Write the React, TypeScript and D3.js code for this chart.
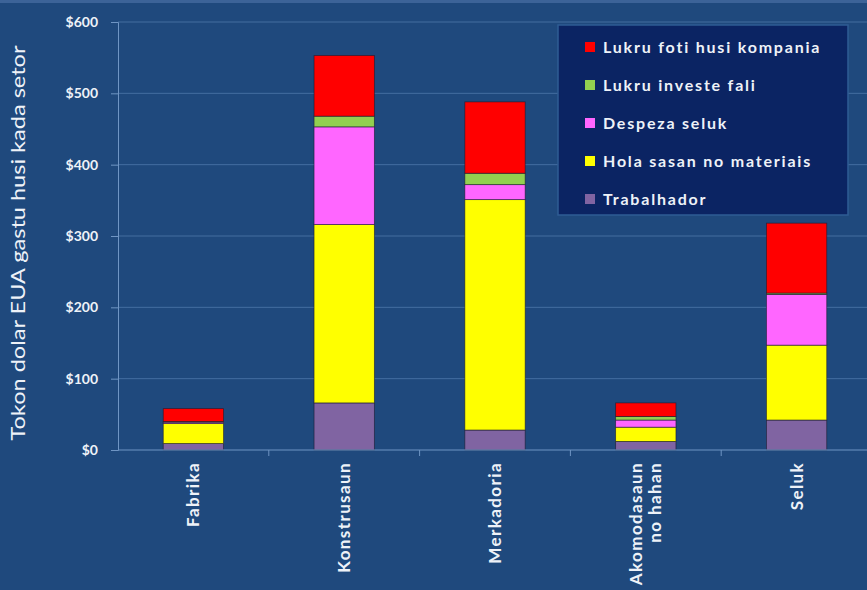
import React, { useEffect, useRef } from 'react';
import * as d3 from 'd3';

// sectors on the x axis
const categories = ['Fabrika', 'Konstrusaun', 'Merkadoria', 'Akomodasaun\nno hahan', 'Seluk'];

// stack series, bottom to top
const seriesNames = [
  'Trabalhador',
  'Hola sasan no materiais',
  'Despeza seluk',
  'Lukru investe fali',
  'Lukru foti husi kompania',
];
const trabalhador = [9, 66, 28, 12, 42];
const holaSasan = [28, 250, 323, 20, 105];
const despezaSeluk = [2, 137, 21, 10, 71];
const lukruInveste = [1, 15, 16, 5, 2];
const lukruFoti = [18, 85, 100, 19, 98];

const yTicks = [0, 100, 200, 300, 400, 500, 600];
const colors = ['#8064a2', '#ffff00', '#ff66ff', '#92d050', '#ff0000'];

const W = 867;
const H = 590;
const FONT = 'Lato, "Open Sans", sans-serif';

const App = () => {
  const svgRef = useRef<SVGSVGElement>(null);

  useEffect(() => {
    const svg = d3.select(svgRef.current);
    svg.selectAll('*').remove();

    const rows = categories.map((c, i) => ({
      cat: c,
      s0: trabalhador[i],
      s1: holaSasan[i],
      s2: despezaSeluk[i],
      s3: lukruInveste[i],
      s4: lukruFoti[i],
    }));
    const keys = ['s0', 's1', 's2', 's3', 's4'];
    const stacked = d3.stack().keys(keys)(rows as any);

    const x = d3.scaleBand().domain(categories).range([118, 872]).padding(0);
    const y = d3.scaleLinear().domain([0, 600]).range([450, 22]);
    const barW = x.bandwidth() * 0.4;

    // background
    svg.append('rect').attr('width', W).attr('height', H).attr('fill', '#1f497d');
    // faint remnant strip at the very top
    svg.append('rect').attr('width', W).attr('height', 3).attr('fill', '#3c6398');

    // grid lines
    svg.append('g')
      .selectAll('line')
      .data(yTicks.slice(1))
      .enter()
      .append('line')
      .attr('x1', 118)
      .attr('x2', W)
      .attr('y1', d => y(d))
      .attr('y2', d => y(d))
      .attr('stroke', '#5c86b8')
      .attr('stroke-width', 1)
      .attr('opacity', 0.6);

    // bars
    const layers = svg.append('g')
      .selectAll('g')
      .data(stacked)
      .enter()
      .append('g')
      .attr('fill', (d, i) => colors[i]);

    layers.selectAll('rect')
      .data(d => d)
      .enter()
      .append('rect')
      .attr('x', (d: any) => (x(d.data.cat) as number) + (x.bandwidth() - barW) / 2)
      .attr('width', barW)
      .attr('y', d => y(d[1]))
      .attr('height', d => y(d[0]) - y(d[1]))
      .attr('stroke', '#1a1a2e')
      .attr('stroke-width', 0.8)
      .attr('stroke-opacity', 0.7);

    // y axis
    const yAxis = d3.axisLeft(y)
      .tickValues(yTicks)
      .tickSize(7)
      .tickFormat(d => `$${d}`);
    const ya = svg.append('g').attr('transform', 'translate(118,0)').call(yAxis);
    ya.select('.domain').attr('stroke', '#6f95c4');
    ya.selectAll('.tick line').attr('stroke', '#6f95c4');
    ya.selectAll('.tick text')
      .attr('x', -20)
      .attr('fill', '#eef2f8')
      .attr('font-family', FONT)
      .attr('font-weight', 700)
      .attr('font-size', 14);

    // x axis
    svg.append('line')
      .attr('x1', 118).attr('x2', W)
      .attr('y1', y(0)).attr('y2', y(0))
      .attr('stroke', '#6f95c4');
    svg.append('g')
      .selectAll('line')
      .data(categories.slice(1))
      .enter()
      .append('line')
      .attr('x1', d => x(d) as number)
      .attr('x2', d => x(d) as number)
      .attr('y1', y(0))
      .attr('y2', y(0) + 6)
      .attr('stroke', '#6f95c4');

    // x labels (rotated)
    categories.forEach(c => {
      const lines = c.split('\n');
      const cx = (x(c) as number) + x.bandwidth() / 2;
      const t = svg.append('text')
        .attr('transform', `translate(${cx},462) rotate(-90)`)
        .attr('text-anchor', 'end')
        .attr('fill', '#eef2f8')
        .attr('font-family', FONT)
        .attr('font-weight', 700)
        .attr('font-size', 17)
        .attr('letter-spacing', 1.4);
      lines.forEach((ln, i) => {
        t.append('tspan')
          .attr('x', 0)
          .attr('y', (i - (lines.length - 1) / 2) * 19 + 6)
          .text(ln);
      });
    });

    // y axis title
    svg.append('text')
      .attr('transform', 'translate(25,243) rotate(-90)')
      .attr('text-anchor', 'middle')
      .attr('fill', '#eef2f8')
      .attr('font-family', FONT)
      .attr('font-size', 20)
      .attr('textLength', 395)
      .attr('lengthAdjust', 'spacingAndGlyphs')
      .text('Tokon dolar EUA gastu husi kada setor');

    // legend
    const lg = svg.append('g').attr('transform', 'translate(558,25)');
    lg.append('rect')
      .attr('width', 290)
      .attr('height', 190)
      .attr('fill', '#0b2463')
      .attr('stroke', '#2f5c94')
      .attr('stroke-width', 1.5);
    const legendOrder = [4, 3, 2, 1, 0];
    legendOrder.forEach((si, i) => {
      const row = lg.append('g').attr('transform', `translate(27,${22 + i * 38})`);
      row.append('rect')
        .attr('x', 0)
        .attr('y', -5)
        .attr('width', 10)
        .attr('height', 10)
        .attr('fill', colors[si]);
      row.append('text')
        .attr('x', 18)
        .attr('dy', '0.35em')
        .attr('fill', '#eef2f8')
        .attr('font-family', FONT)
        .attr('font-weight', 700)
        .attr('font-size', 16)
        .attr('letter-spacing', 1.8)
        .text(seriesNames[si]);
    });
  }, []);

  return (
    <div>
      <style>{`body{margin:0}`}</style>
      <svg ref={svgRef} width={W} height={H} style={{ display: 'block' }} />
    </div>
  );
};

export default App;
